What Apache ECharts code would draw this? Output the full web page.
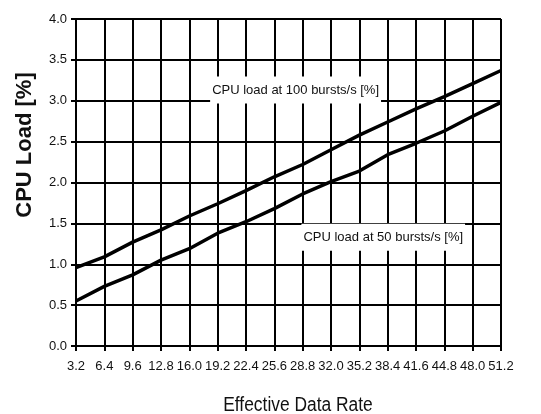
<!DOCTYPE html>
<html>
<head>
<meta charset="utf-8">
<script src="https://cdn.jsdelivr.net/npm/echarts@6/dist/echarts.min.js"></script>
<style>html,body{margin:0;padding:0;background:#fff}#c{width:541px;height:414px}</style>
</head>
<body>
<div id="c"></div>
<script>
var rates = [3.2, 6.4, 9.6, 12.8, 16.0, 19.2, 22.4, 25.6, 28.8, 32.0, 35.2, 38.4, 41.6, 44.8, 48.0, 51.2];
var load100 = [0.96, 1.09, 1.27, 1.42, 1.59, 1.74, 1.90, 2.07, 2.22, 2.40, 2.58, 2.74, 2.90, 3.05, 3.21, 3.37];
var load50 = [0.55, 0.73, 0.87, 1.05, 1.19, 1.38, 1.52, 1.68, 1.86, 2.01, 2.14, 2.34, 2.48, 2.63, 2.81, 2.98];
var name100 = 'CPU load at 100 bursts/s [%]';
var name50 = 'CPU load at 50 bursts/s [%]';
var xTitle = 'Effective Data Rate';
var yTitle = 'CPU Load [%]';

var sans = "'Liberation Sans', Arial, Helvetica, sans-serif";
function pairs(vals){ return rates.map(function(r,i){ return [r, vals[i]]; }); }
function lbl(text){
  return {show:true, position:'inside', formatter:text, color:'#111', fontFamily:sans, fontSize:13,
    backgroundColor:'#fff', padding:[7,2,7,2]};
}
var chart = echarts.init(document.getElementById('c'), null, {renderer:'canvas'});
chart.setOption({
  backgroundColor:'#fff',
  animation:false,
  grid:{left:76, right:40, top:19, bottom:68},
  xAxis:{type:'value', min:3.2, max:51.2, interval:3.2,
    axisLine:{lineStyle:{color:'#000', width:2}},
    axisTick:{show:true, length:5, lineStyle:{color:'#000', width:2}},
    axisLabel:{color:'#111', fontFamily:sans, fontSize:13, margin:14,
      formatter:function(v){return v.toFixed(1);}},
    splitLine:{show:true, lineStyle:{color:'#000', width:2}}},
  yAxis:{type:'value', min:0, max:4, interval:0.5,
    axisLine:{show:true, lineStyle:{color:'#000', width:2}},
    axisTick:{show:true, length:5, lineStyle:{color:'#000', width:2}},
    axisLabel:{color:'#111', fontFamily:sans, fontSize:13, margin:9,
      formatter:function(v){return v.toFixed(1);}},
    splitLine:{show:true, lineStyle:{color:'#000', width:2}}},
  graphic:[
    {type:'text', x:25, y:145, rotation:Math.PI/2,
      style:{text:yTitle, fill:'#111', font:"bold 22px " + sans, align:'center', verticalAlign:'middle'}},
    {type:'text', x:298, y:405, scaleX:0.87,
      style:{text:xTitle, fill:'#111', font:"20px " + sans, align:'center', verticalAlign:'middle'}}
  ],
  series:[
    {type:'line', name:name100, data:pairs(load100), symbol:'none', smooth:false,
      lineStyle:{color:'#000', width:3.5},
      markPoint:{symbol:'rect', symbolSize:0, data:[{coord:[28.0, 3.13], label:lbl(name100)}]}},
    {type:'line', name:name50, data:pairs(load50), symbol:'none', smooth:false,
      lineStyle:{color:'#000', width:3.5},
      markPoint:{symbol:'rect', symbolSize:0, data:[{coord:[37.9, 1.33], label:lbl(name50)}]}}
  ]
});
</script>
</body>
</html>
